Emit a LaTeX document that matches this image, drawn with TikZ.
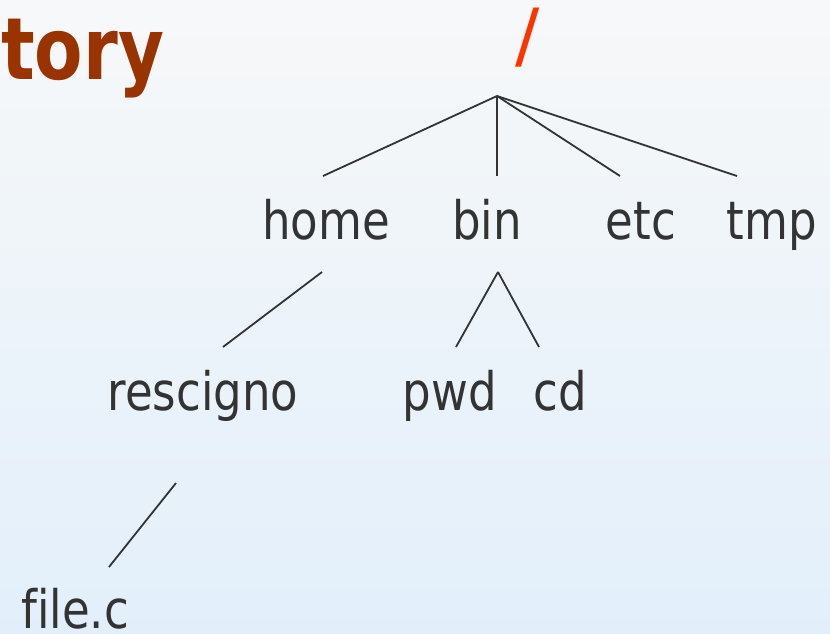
\documentclass[tikz,border=0pt]{standalone}
\usepackage{fontspec}
\setmainfont{DejaVu Sans}[FakeStretch=0.85,Ligatures=NoCommon]
\newfontfamily\titlefont{DejaVu Sans}[FakeStretch=0.82]
\newfontfamily\slashfont{DejaVu Sans}
\definecolor{labelgray}{RGB}{51,51,51}
\definecolor{titlered}{RGB}{153,51,0}
\definecolor{slashred}{RGB}{255,51,0}
\definecolor{bgtop}{RGB}{247,248,249}
\definecolor{bgbot}{RGB}{226,239,250}
\begin{document}
\begin{tikzpicture}[x=1pt,y=-1pt,
  lbl/.style={inner sep=0pt,anchor=base,text=labelgray,font=\fontsize{53}{60}\selectfont},
  edge/.style={draw=labelgray,line width=1.8pt}]
\useasboundingbox (0,0) rectangle (830,634);
\shade[top color=bgtop,bottom color=bgbot] (0,0) rectangle (830,634);
% title fragment and root
\node[inner sep=0pt,anchor=base west,text=titlered,font=\titlefont\bfseries\fontsize{86}{90}\selectfont] (title) at (1,80) {tory};
\node[inner sep=0pt,anchor=base,text=slashred,font=\slashfont\fontsize{72}{80}\selectfont] (root) at (528,61) {/};
% labels
\node[lbl] (home) at (326,239) {home};
\node[lbl] (bin) at (487,239) {bin};
\node[lbl] (etc) at (641,239) {etc};
\node[lbl] (tmp) at (772,239) {tmp};
\node[lbl] (resc) at (203,410) {rescigno};
\node[lbl] (pwd) at (450,410) {pwd};
\node[lbl] (cd) at (560,410) {cd};
\node[lbl] (filec) at (75,628) {f\kern0pt ile.c};
% connector end points
\coordinate (hub) at (497,96);
\coordinate (homeT) at (323,176);
\coordinate (binT) at (497,176);
\coordinate (etcT) at (620,176);
\coordinate (tmpT) at (737,176);
\coordinate (homeB) at (322,272);
\coordinate (binB) at (498,272);
\coordinate (rescT) at (223,347);
\coordinate (pwdT) at (456,347);
\coordinate (cdT) at (539,347);
\coordinate (rescB) at (176,483);
\coordinate (fileT) at (109,567);
% connectors
\draw[edge] (hub) -- (homeT);
\draw[edge] (hub) -- (binT);
\draw[edge] (hub) -- (etcT);
\draw[edge] (hub) -- (tmpT);
\draw[edge] (homeB) -- (rescT);
\draw[edge] (binB) -- (pwdT);
\draw[edge] (binB) -- (cdT);
\draw[edge] (rescB) -- (fileT);
\end{tikzpicture}
\end{document}
